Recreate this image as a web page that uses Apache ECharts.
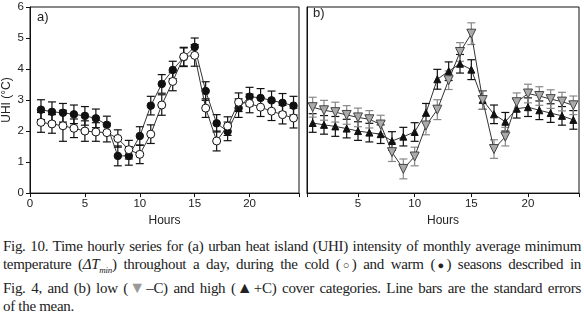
<!DOCTYPE html>
<html>
<head>
<meta charset="utf-8">
<script src="https://cdn.jsdelivr.net/npm/echarts@6/dist/echarts.min.js"></script>
<style>
  html, body { margin: 0; padding: 0; background: #fff; }
  #chart { position: absolute; left: 0; top: 0; width: 584px; height: 232px; }
  #caption { position: absolute; left: 3px; top: 237px; width: 578px;
    font-family: "Liberation Serif", "Times New Roman", serif; font-size: 15px;
    line-height: 18px; color: #222; letter-spacing: -0.3px; }
  #caption .ln { text-align: justify; text-align-last: justify; white-space: nowrap; }
  #caption .ln.last { text-align-last: left; }
  .sym { font-size: 11px; margin: 0 -1px; letter-spacing: 0; }
  .tri { font-size: 16px; line-height: 15px; margin: 0 0 0 -1px; letter-spacing: -1px; }
  .gray { color: #999; }
</style>
</head>
<body>
<div id="chart"></div>
<div id="caption">
  <div class="ln">Fig. 10. Time hourly series for (a) urban heat island (UHI) intensity of monthly average minimum</div>
  <div class="ln">temperature (<i>ΔT<sub style="font-size:9px">min</sub></i>) throughout a day, during the cold (<span class="sym">○</span>) and warm (<span class="sym">●</span>) seasons described in</div>
  <div class="ln">Fig. 4, and (b) low (<span class="tri gray">▼</span>–C) and high (<span class="tri">▲</span>+C) cover categories. Line bars are the standard errors</div>
  <div class="ln last">of the mean.</div>
</div>
<script>
// ---- data ----
const hours = [1,2,3,4,5,6,7,8,9,10,11,12,13,14,15,16,17,18,19,20,21,22,23,24];
const yTicks = [0,1,2,3,4,5,6];
// (a) cold (open circles) and warm (filled circles) seasons
const coldUHI = [2.28,2.23,2.17,2.09,2.00,1.97,1.95,1.76,1.40,1.25,1.90,2.84,3.60,4.40,4.44,2.74,1.68,2.16,2.93,2.89,2.77,2.64,2.53,2.42];
const coldSE  = [0.32,0.30,0.50,0.30,0.33,0.30,0.30,0.28,0.30,0.30,0.30,0.33,0.30,0.30,0.35,0.30,0.32,0.30,0.30,0.30,0.30,0.30,0.30,0.32];
const warmUHI = [2.69,2.62,2.59,2.54,2.49,2.41,2.20,1.20,1.20,1.84,2.82,3.52,3.97,4.38,4.71,3.29,2.25,1.99,2.74,3.11,3.07,2.99,2.91,2.82];
const warmSE  = [0.32,0.32,0.30,0.30,0.30,0.30,0.28,0.32,0.30,0.30,0.30,0.30,0.28,0.30,0.29,0.30,0.28,0.30,0.30,0.30,0.30,0.30,0.30,0.30];
// (b) low (-C, grey down-triangles) and high (+C, black up-triangles) cover
const lowCover  = [2.77,2.67,2.61,2.52,2.44,2.38,2.21,1.32,0.78,1.18,2.18,2.69,3.64,4.55,5.14,3.00,1.42,1.82,2.93,3.21,3.13,3.03,2.95,2.83];
const lowSE     = [0.32,0.32,0.32,0.30,0.30,0.28,0.30,0.30,0.32,0.30,0.30,0.32,0.30,0.30,0.35,0.30,0.30,0.30,0.30,0.30,0.30,0.30,0.30,0.30];
const highCover = [2.26,2.20,2.15,2.08,2.00,1.95,1.90,1.68,1.82,1.97,2.59,3.67,3.93,4.17,3.98,3.00,2.54,2.30,2.72,2.77,2.67,2.58,2.49,2.36];
const highSE    = [0.30,0.30,0.32,0.30,0.30,0.30,0.30,0.30,0.30,0.30,0.30,0.32,0.30,0.30,0.32,0.30,0.30,0.30,0.30,0.30,0.30,0.30,0.30,0.30];

// ---- build ----
const pts = (vals) => hours.map((h, i) => [h, vals[i]]);
const bars = (vals, se) => hours.map((h, i) => [h, vals[i] - se[i], vals[i] + se[i]]);
const FONT = 'Liberation Sans';
const TXT = '#222';

function errSeries(data, xi, color) {
  return {
    type: 'custom', xAxisIndex: xi, yAxisIndex: xi, z: 2,
    encode: { x: 0, y: [1, 2] },
    data: data,
    renderItem: function (params, api) {
      const lo = api.coord([api.value(0), api.value(1)]);
      const hi = api.coord([api.value(0), api.value(2)]);
      const w = 4;
      const st = { stroke: color, lineWidth: 1.2 };
      return { type: 'group', children: [
        { type: 'line', shape: { x1: lo[0], y1: lo[1], x2: hi[0], y2: hi[1] }, style: st },
        { type: 'line', shape: { x1: lo[0] - w, y1: lo[1], x2: lo[0] + w, y2: lo[1] }, style: st },
        { type: 'line', shape: { x1: hi[0] - w, y1: hi[1], x2: hi[0] + w, y2: hi[1] }, style: st }
      ]};
    }
  };
}
function lineSeries(data, xi, symbol, size, fill, border, rot, z) {
  return {
    type: 'line', xAxisIndex: xi, yAxisIndex: xi, data: data, z: z,
    symbol: symbol, symbolSize: size, symbolRotate: rot || 0, showSymbol: true,
    lineStyle: { color: '#333', width: 1 },
    itemStyle: { color: fill, borderColor: border, borderWidth: 1 },
    animation: false
  };
}
const xLabelFmt = (v) => (Math.abs(v % 5) < 1e-9 ? String(v) : '');
const axisName = { fontFamily: FONT, fontSize: 12, color: TXT };
const axisLbl = { fontFamily: FONT, fontSize: 11.5, color: TXT };

const chart = echarts.init(document.getElementById('chart'), null, { renderer: 'canvas' });
chart.setOption({
  animation: false,
  grid: [
    { left: 29, top: 7, width: 270, height: 195, show: true, borderColor: '#111', borderWidth: 1 },
    { left: 307, top: 7, width: 272, height: 195, show: true, borderColor: '#111', borderWidth: 1 }
  ],
  xAxis: [
    { type: 'value', gridIndex: 0, min: 0, max: 24.5, interval: 5,
      name: 'Hours', nameLocation: 'middle', nameGap: 20, nameTextStyle: axisName,
      axisLine: { lineStyle: { color: '#111' } },
      axisTick: { inside: false, length: 4, lineStyle: { color: '#111' } },
      axisLabel: Object.assign({ formatter: xLabelFmt, margin: 5 }, axisLbl),
      splitLine: { show: false } },
    { type: 'value', gridIndex: 1, min: 0.5, max: 24.5, splitNumber: 5,
      name: 'Hours', nameLocation: 'middle', nameGap: 20, nameTextStyle: axisName,
      axisLine: { lineStyle: { color: '#111' } },
      axisTick: { inside: false, length: 4, lineStyle: { color: '#111' } },
      axisLabel: Object.assign({ formatter: xLabelFmt, margin: 5 }, axisLbl),
      splitLine: { show: false } }
  ],
  yAxis: [
    { type: 'value', gridIndex: 0, min: yTicks[0], max: yTicks[yTicks.length - 1], interval: 1,
      name: 'UHI (°C)', nameLocation: 'middle', nameGap: 17, nameRotate: 90, nameTextStyle: axisName,
      axisLine: { show: true, lineStyle: { color: '#111' } },
      axisTick: { show: true, inside: false, length: 4, lineStyle: { color: '#111' } },
      axisLabel: Object.assign({ margin: 6 }, axisLbl),
      splitLine: { show: false } },
    { type: 'value', gridIndex: 1, min: 0, max: 6, interval: 1,
      axisLine: { show: true, lineStyle: { color: '#111' } },
      axisTick: { show: false }, axisLabel: { show: false },
      splitLine: { show: false } }
  ],
  graphic: [
    { type: 'text', left: 37, top: 11, style: { text: 'a)', font: '13px "Liberation Sans"', fill: TXT } },
    { type: 'text', left: 313, top: 7, style: { text: 'b)', font: '13px "Liberation Sans"', fill: TXT } }
  ],
  series: [
    errSeries(bars(warmUHI, warmSE), 0, '#111'),
    errSeries(bars(coldUHI, coldSE), 0, '#111'),
    lineSeries(pts(warmUHI), 0, 'circle', 7.5, '#111', '#111', 0, 3),
    lineSeries(pts(coldUHI), 0, 'circle', 8, '#fff', '#111', 0, 4),
    errSeries(bars(highCover, highSE), 1, '#111'),
    errSeries(bars(lowCover, lowSE), 1, '#888'),
    lineSeries(pts(highCover), 1, 'triangle', 7, '#111', '#111', 0, 3),
    lineSeries(pts(lowCover), 1, 'triangle', 9, '#aaa', '#444', 180, 4)
  ]
});
</script>
</body>
</html>
